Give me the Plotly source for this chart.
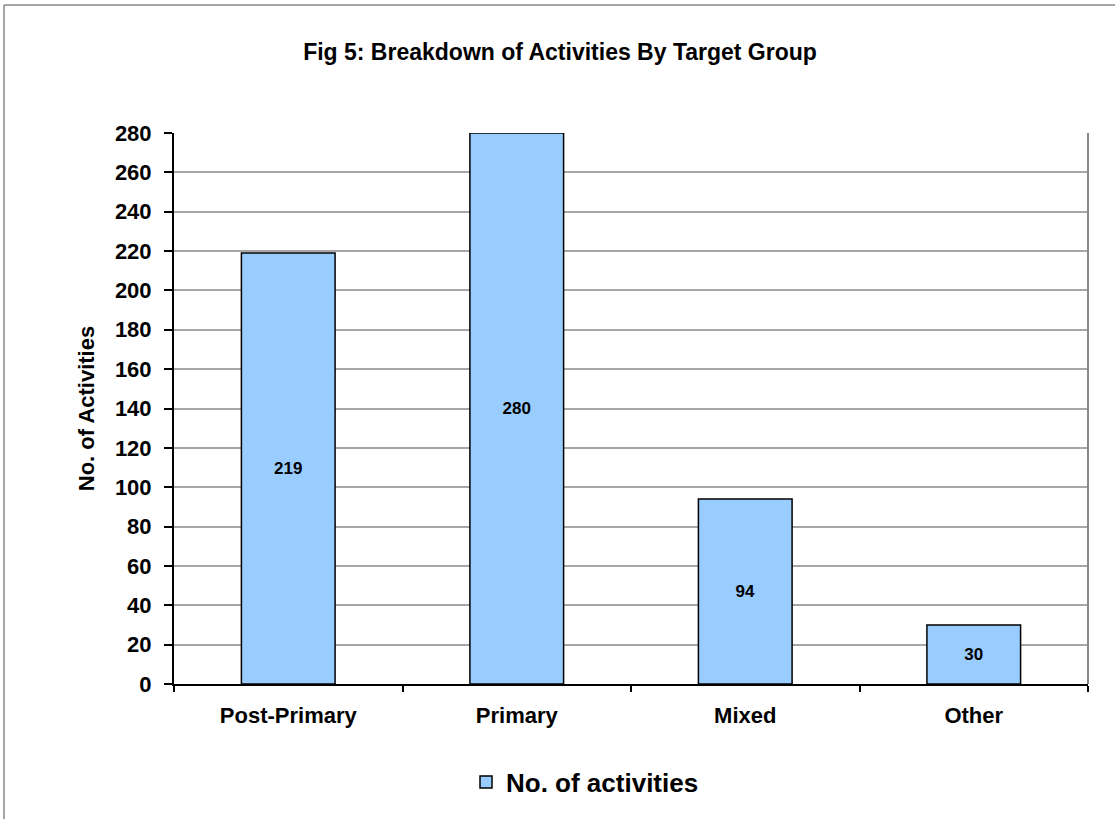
import plotly.graph_objects as go

categories = ["Post-Primary", "Primary", "Mixed", "Other"]
activities = [219, 280, 94, 30]
y_ticks = list(range(0, 281, 20))

FONT = "Arial, 'Liberation Sans', sans-serif"
W, H = 1115, 819
L, R, T, B = 174, 27, 133, 135

fig = go.Figure()
fig.add_trace(go.Bar(
    x=categories, y=activities, name="<b>No. of activities</b>",
    marker=dict(color="#99CCFF", line=dict(color="#000000", width=1.5)),
    width=0.41,
    text=[f"<b>{v}</b>" for v in activities], textposition="inside",
    insidetextanchor="middle",
    textfont=dict(family=FONT, size=17, color="#000000"),
))

pw = W - L - R
ph = H - T - B
fig.update_layout(
    width=W, height=H,
    margin=dict(l=L, r=R, t=T, b=B),
    paper_bgcolor="white", plot_bgcolor="white",
    font=dict(family=FONT, color="#000000"),
    title=dict(text="<b>Fig 5: Breakdown of Activities By Target Group</b>",
               x=560 / W, xanchor="center", y=1 - 52 / H, yanchor="middle",
               font=dict(size=23, family=FONT)),
    showlegend=True,
    legend=dict(orientation="h", x=(466 - L) / pw, xanchor="left",
                y=-(782 - (T + ph)) / ph, yanchor="middle",
                font=dict(size=26, family=FONT),
                bgcolor="rgba(0,0,0,0)"),
    bargap=0.59,
    uniformtext=dict(mode="show", minsize=10),
)
fig.update_yaxes(
    range=[0, 280], tickvals=y_ticks,
    ticktext=[f"<b>{v}</b>" for v in y_ticks],
    tickfont=dict(size=22, family=FONT),
    ticklabelstandoff=8,
    showgrid=True, gridcolor="#A6A6A6", gridwidth=1.5,
    showline=True, linecolor="#000000", linewidth=2,
    ticks="outside", ticklen=8, tickwidth=2, tickcolor="#000000",
    zeroline=False,
    title=dict(text="<b>No. of Activities</b>", font=dict(size=22, family=FONT), standoff=14),
)
fig.update_xaxes(
    tickvals=categories, ticktext=[f"<b>{c}</b>" for c in categories],
    tickfont=dict(size=22, family=FONT),
    ticklabelstandoff=11,
    showline=True, linecolor="#000000", linewidth=2,
    ticks="outside", tickson="boundaries", ticklen=6, tickwidth=2, tickcolor="#000000",
    showgrid=False,
)
# plot-area right border and outer chart border (top, left)
fig.add_shape(type="line", xref="paper", yref="paper", x0=1, x1=1, y0=0, y1=1,
              line=dict(color="#888888", width=2))
fig.add_shape(type="line", xref="paper", yref="paper",
              x0=(4 - L) / pw, x1=(W - L) / pw, y0=(T + ph - 5) / ph, y1=(T + ph - 5) / ph,
              line=dict(color="#888888", width=1.5))
fig.add_shape(type="line", xref="paper", yref="paper",
              x0=(4 - L) / pw, x1=(4 - L) / pw, y0=(T + ph - 5) / ph, y1=-(H - T - ph) / ph,
              line=dict(color="#888888", width=1.5))

fig.write_html("out.html", config={"displayModeBar": False},
               post_script="document.body.style.margin='0';")
